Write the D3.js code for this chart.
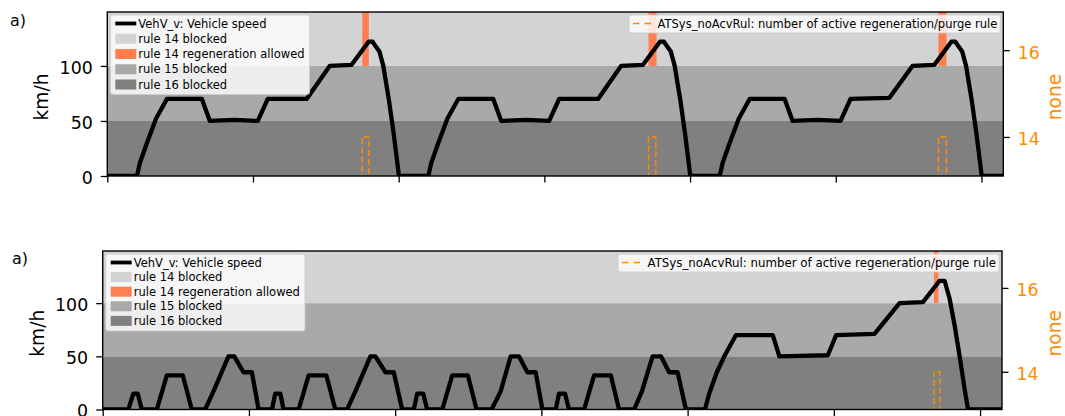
<!DOCTYPE html>
<html>
<head>
<meta charset="utf-8">
<style>
  body { margin: 0; background: #fff; }
  svg text { font-family: "DejaVu Sans", sans-serif; }
</style>
<script src="https://cdn.jsdelivr.net/npm/d3@7/dist/d3.min.js"></script>
</head>
<body>
<svg id="chart" width="1065" height="416"></svg>
<script>
// ---- data ----
var xTicks = [0, 200, 400, 600, 800, 1000, 1200];
var speedTicks = [0, 50, 100];
var ruleTicks = [14, 16];

var bandNames = ["rule 16 blocked", "rule 15 blocked", "rule 14 blocked"];
var bandLow = [0, 50, 100];
var bandHigh = [50, 100, 149];
var bandColors = ["#808080", "#a9a9a9", "#d3d3d3"];

// top panel: three extra-urban cycles
var topTime = [0, 40.7, 44.8, 54.4, 66.8, 81.8, 129.8, 140.8, 175, 206.6, 220.3, 273.7, 305.3, 335.4, 358.7, 364.2, 368.2, 373.6, 378.9, 386.6, 393, 398.9, 400.3,
  440.7, 444.8, 454.4, 466.8, 481.8, 529.8, 540.8, 575, 606.6, 620.3, 673.7, 705.3, 735.4, 758.7, 764.2, 768.2, 773.6, 778.9, 786.6, 793, 798.9, 800.3,
  840.7, 844.8, 854.4, 866.8, 881.8, 929.8, 940.8, 975, 1006.6, 1020.3, 1073.7, 1105.3, 1135.4, 1158.7, 1164.2, 1168.2, 1173.6, 1178.9, 1186.6, 1193, 1198.9, 1200.3, 1230];
var topSpeed = [0, 0, 12, 30, 52, 70, 70, 50, 51, 50, 70, 70, 100, 101, 122, 122, 118, 113, 100, 69, 39, 8, 0,
  0, 12, 30, 52, 70, 70, 50, 51, 50, 70, 70, 100, 101, 122, 122, 118, 113, 100, 69, 39, 8, 0,
  0, 12, 30, 52, 70, 70, 50, 51, 50, 70, 71, 100, 101, 122, 122, 118, 113, 100, 69, 39, 8, 0, 0];
var topRegenStart = [350, 743, 1141];
var topRegenEnd = [359, 754, 1152];
var topRuleTime = [0, 350, 350, 359, 359, 743, 743, 753, 753, 1141, 1141, 1152, 1152, 1230];
var topRuleValue = [0, 0, 14, 14, 0, 0, 14, 14, 0, 0, 14, 14, 0, 0];

// bottom panel: four urban cycles then one extra-urban cycle
var botTime = [0, 35.1, 41.9, 47.9, 53.4, 74, 87.7, 109.6, 121.9, 140.1, 151.5, 172, 179.9, 192.6, 204.1, 213.2,
  231.5, 236, 242.9, 247.4, 268, 281.7, 305.9, 318.2, 334.3, 345.6, 366.2, 373, 386.7, 398.1, 409.6,
  425.5, 430.2, 438.4, 443.8, 464.4, 478.1, 499.5, 511.4, 531.9, 544.3, 558, 569.3, 580.8, 592.2, 601.4,
  619.6, 624.1, 632.3, 637.8, 658.4, 672.1, 695, 706.3, 726.9, 737.5, 752.1, 763.5, 774.8, 786.3, 797.7,
  823.7, 829.6, 840, 850.2, 866.2, 916.5, 925.5, 991.8, 1003.2, 1055.6, 1089.9, 1121.9, 1144.7, 1151.5, 1158.4, 1165.2, 1172.1, 1178.9, 1183.6, 1230];
var botSpeed = [0, 0, 15, 15, 0, 0, 32, 32, 0, 0, 17, 50, 50, 35, 35, 0,
  0, 15, 15, 0, 0, 32, 32, 0, 0, 17, 50, 50, 35, 35, 0,
  0, 15, 15, 0, 0, 32, 32, 0, 0, 17, 50, 50, 35, 35, 0,
  0, 15, 15, 0, 0, 32, 32, 0, 0, 17, 50, 50, 35, 35, 0,
  0, 15, 35, 50, 70, 70, 50, 51, 70, 71, 100, 101, 121, 121, 104, 79, 50, 19, 0, 0];
var botRegenStart = [1137];
var botRegenEnd = [1143];
var botRuleTime = [0, 1137, 1137, 1145, 1145, 1230];
var botRuleValue = [0, 0, 14, 14, 0, 0];

var speedName = "VehV_v: Vehicle speed";
var regenName = "rule 14 regeneration allowed";
var ruleName = "ATSys_noAcvRul: number of active regeneration/purge rule";

var svg = d3.select("#chart");
svg.append("rect").attr("width", 1065).attr("height", 416).attr("fill", "#fff");

var orange = "#ff8c00", coral = "#ff7f50";

function drawPanel(id, box, time, speed, regenStart, regenEnd, ruleTime, ruleValue, rowGap, rightLegendX, rightFont) {
  var x = d3.scaleLinear().domain([0, 1230]).range([box.left, box.right]);
  var y = d3.scaleLinear().domain([0, 149]).range([box.bottom, box.top]);
  var y2 = d3.scaleLinear().domain([13.1, 16.88]).range([box.bottom, box.top]);

  svg.append("clipPath").attr("id", "clip" + id)
    .append("rect").attr("x", box.left).attr("y", box.top)
    .attr("width", box.right - box.left).attr("height", box.bottom - box.top);

  var g = svg.append("g").attr("clip-path", "url(#clip" + id + ")");

  // rule bands
  g.selectAll(".band").data(bandLow).enter().append("rect")
    .attr("x", box.left).attr("width", box.right - box.left)
    .attr("y", function(d, i) { return y(bandHigh[i]); })
    .attr("height", function(d, i) { return y(d) - y(bandHigh[i]); })
    .attr("fill", function(d, i) { return bandColors[i]; });

  // regeneration allowed spans (from 100 km/h up)
  g.selectAll(".regen").data(regenStart).enter().append("rect")
    .attr("x", function(d) { return x(d); })
    .attr("width", function(d, i) { return x(regenEnd[i]) - x(d); })
    .attr("y", box.top).attr("height", y(100) - box.top)
    .attr("fill", coral);

  var line = d3.line().x(function(d) { return x(d[0]); }).y(function(d) { return y(d[1]); });
  g.append("path").datum(d3.zip(time, speed))
    .attr("d", line).attr("fill", "none").attr("stroke", "#000")
    .attr("stroke-width", 4.3).attr("stroke-linejoin", "round");

  var line2 = d3.line().x(function(d) { return x(d[0]); }).y(function(d) { return y2(d[1]); });
  g.append("path").datum(d3.zip(ruleTime, ruleValue))
    .attr("d", line2).attr("fill", "none").attr("stroke", orange)
    .attr("stroke-width", 1.5).attr("stroke-dasharray", "6,3");

  // frame
  svg.append("rect").attr("x", box.left).attr("y", box.top)
    .attr("width", box.right - box.left).attr("height", box.bottom - box.top)
    .attr("fill", "none").attr("stroke", "#000").attr("stroke-width", 1.4);

  // axes
  var xa = svg.append("g").attr("transform", "translate(0," + box.bottom + ")")
    .call(d3.axisBottom(x).tickValues(xTicks).tickSize(6.5).tickFormat(""));
  var ya = svg.append("g").attr("transform", "translate(" + box.left + ",0)")
    .call(d3.axisLeft(y).tickValues(speedTicks).tickSize(6.5).tickPadding(8));
  var ra = svg.append("g").attr("transform", "translate(" + box.right + ",0)")
    .call(d3.axisRight(y2).tickValues(ruleTicks).tickSize(6.5).tickPadding(8).tickFormat(d3.format("d")));
  [xa, ya, ra].forEach(function(a) {
    a.select(".domain").remove();
    a.selectAll(".tick line").attr("stroke", "#000").attr("stroke-width", 1.3);
    a.selectAll(".tick text").style("font-size", "17.4px").attr("fill", "#000");
  });
  ya.selectAll(".tick text").attr("dy", "0.42em");
  ra.selectAll(".tick text").attr("dy", "0.45em").attr("fill", orange);

  var cy = (box.top + box.bottom) / 2 + 3;
  svg.append("text").text("km/h")
    .attr("transform", "translate(" + (box.left - 59) + "," + cy + ") rotate(-90)")
    .attr("text-anchor", "middle").style("font-size", "18.6px").attr("fill", "#000");
  svg.append("text").text("none")
    .attr("transform", "translate(1061," + cy + ") rotate(-90)")
    .attr("text-anchor", "middle").style("font-size", "18.6px").attr("fill", orange);

  svg.append("text").text("a)").attr("x", box.aX).attr("y", box.aY)
    .style("font-size", "16px").attr("fill", "#000");

  // left legend
  var entries = [
    {name: speedName, kind: "line", color: "#000"},
    {name: bandNames[2], kind: "patch", color: bandColors[2]},
    {name: regenName, kind: "patch", color: coral},
    {name: bandNames[1], kind: "patch", color: bandColors[1]},
    {name: bandNames[0], kind: "patch", color: bandColors[0]}
  ];
  var lg = svg.append("g");
  var lbx = box.left + 3, lby = box.top + 3;
  var lbox = lg.append("rect").attr("x", lbx).attr("y", lby)
    .attr("rx", 2.5).attr("fill", "#fff").attr("fill-opacity", 0.8)
    .attr("stroke", "#ccc").attr("stroke-opacity", 0.8);
  var maxW = 0;
  entries.forEach(function(e, i) {
    var cyr = lby + 8.5 + i * rowGap;
    if (e.kind === "line") {
      lg.append("line").attr("x1", lbx + 5).attr("x2", lbx + 26).attr("y1", cyr).attr("y2", cyr)
        .attr("stroke", e.color).attr("stroke-width", 3.8);
    } else {
      lg.append("rect").attr("x", lbx + 5).attr("y", cyr - 5).attr("width", 21).attr("height", 10)
        .attr("fill", e.color);
    }
    var t = lg.append("text").text(e.name).attr("x", lbx + 28).attr("y", cyr + 4)
      .style("font-size", "11.5px").attr("fill", "#000");
    maxW = Math.max(maxW, t.node().getComputedTextLength());
  });
  lbox.attr("width", maxW + 33).attr("height", 8.5 + 4 * rowGap + 10);

  // right legend
  var rg = svg.append("g");
  var rt = rg.append("text").text(ruleName).style("font-size", rightFont + "px").attr("fill", "#000");
  var rbx = rightLegendX, rbw = box.right - 3 - rbx;
  rg.insert("rect", "text").attr("x", rbx).attr("y", lby).attr("width", rbw).attr("height", 18)
    .attr("rx", 2.5).attr("fill", "#fff").attr("fill-opacity", 0.8)
    .attr("stroke", "#ccc").attr("stroke-opacity", 0.8);
  rg.append("line").attr("x1", rbx + 4).attr("x2", rbx + 22).attr("y1", lby + 8.5).attr("y2", lby + 8.5)
    .attr("stroke", orange).attr("stroke-width", 1.5).attr("stroke-dasharray", "6.5,5");
  rt.attr("x", box.right - 3 - 3).attr("y", lby + 12.5).attr("text-anchor", "end");
}

drawPanel("top", {left: 107.3, right: 1003.3, top: 12, bottom: 176, aX: 10, aY: 26},
  topTime, topSpeed, topRegenStart, topRegenEnd, topRuleTime, topRuleValue, 15.25, 629, 11.5);
drawPanel("bot", {left: 102.7, right: 1002, top: 251, bottom: 409.5, aX: 12, aY: 264},
  botTime, botSpeed, botRegenStart, botRegenEnd, botRuleTime, botRuleValue, 14.6, 618, 11.8);
</script>
</body>
</html>
